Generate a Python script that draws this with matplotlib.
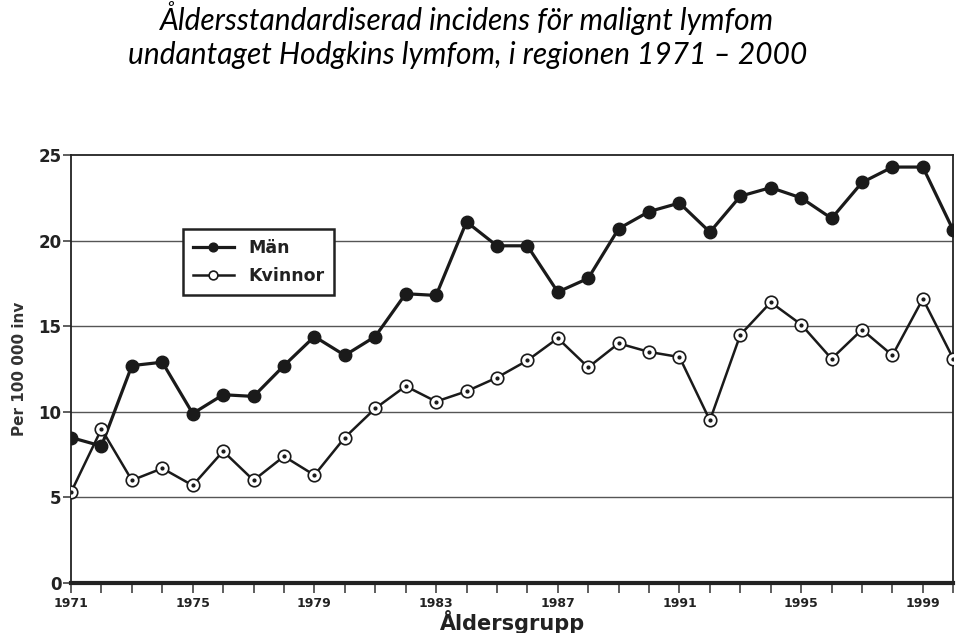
import numpy as np
import matplotlib.pyplot as plt

# ---- data ----
years = list(range(1971, 2001))
man = [8.5, 8.0, 12.7, 12.9, 9.9, 11.0, 10.9, 12.7, 14.4, 13.3,
       14.4, 16.9, 16.8, 21.1, 19.7, 19.7, 17.0, 17.8, 20.7, 21.7,
       22.2, 20.5, 22.6, 23.1, 22.5, 21.3, 23.4, 24.3, 24.3, 20.6]
kvinnor = [5.3, 9.0, 6.0, 6.7, 5.7, 7.7, 6.0, 7.4, 6.3, 8.5,
           10.2, 11.5, 10.6, 11.2, 12.0, 13.0, 14.3, 12.6, 14.0, 13.5,
           13.2, 9.5, 14.5, 16.4, 15.1, 13.1, 14.8, 13.3, 16.6, 13.1]
yticks = [0, 5, 10, 15, 20, 25]
xlabels = list(range(1971, 2001, 4))

title = "Åldersstandardiserad incidens för malignt lymfom\nundantaget Hodgkins lymfom, i regionen 1971 – 2000"

narrow = ['Liberation Sans Narrow', 'DejaVu Sans']

fig = plt.figure(figsize=(9.6, 6.33), dpi=100)
ax = fig.add_axes([0.074, 0.079, 0.919, 0.676])

for y in [5, 10, 15, 20]:
    ax.axhline(y, color='#555555', lw=1.0, zorder=1)

ax.plot(years, man, color='#1a1a1a', lw=2.3, marker='o', ms=9,
        mfc='#1a1a1a', mec='#1a1a1a', label='Män', zorder=3)
ax.plot(years, kvinnor, color='#1a1a1a', lw=1.8, marker='o', ms=9,
        mfc='white', mec='#1a1a1a', mew=1.2, label='Kvinnor', zorder=3)
# small inner dot of the open markers
ax.plot(years, kvinnor, ls='none', marker='o', ms=2, mfc='#1a1a1a',
        mec='#1a1a1a', zorder=4)

ax.set_xlim(1971, 2000)
ax.set_ylim(0, 25)
ax.set_yticks(yticks)
ax.set_yticklabels([str(v) for v in yticks], family=narrow, fontsize=12,
                   fontweight='bold', color='#222222')
ax.set_xticks(years)
ax.set_xticklabels([str(y) if y in xlabels else '' for y in years],
                   family=narrow, fontsize=9, fontweight='bold', color='#222222')
ax.tick_params(axis='x', length=7, width=1.1, color='#333333', pad=3)
ax.tick_params(axis='y', length=6, width=1.1, color='#333333', pad=1)

for s in ['top', 'right', 'left']:
    ax.spines[s].set_linewidth(1.3)
    ax.spines[s].set_color('#222222')
ax.spines['bottom'].set_linewidth(3)
ax.spines['bottom'].set_color('#222222')

ax.set_xlabel('Åldersgrupp', family=narrow, fontsize=15, fontweight='bold',
              color='#222222', labelpad=0)
ax.set_ylabel('Per 100 000 inv', fontsize=11, fontweight='bold',
              color='#333333', labelpad=8)

leg = ax.legend(loc='upper left', bbox_to_anchor=(0.127, 0.827), frameon=True,
                fancybox=False, edgecolor='#222222', fontsize=12.5,
                handlelength=2.4, markerscale=0.7, borderpad=0.55,
                labelspacing=0.6, borderaxespad=0)
leg.get_frame().set_linewidth(1.8)
leg.get_frame().set_alpha(1)
for t in leg.get_texts():
    t.set_fontweight('bold')
    t.set_color('#222222')

fig.text(0.487, 0.998, title, ha='center', va='top', fontsize=21.5,
         style='italic', family=['Lato', 'DejaVu Sans'], linespacing=1.25)

fig.savefig('out.png', dpi=100)
